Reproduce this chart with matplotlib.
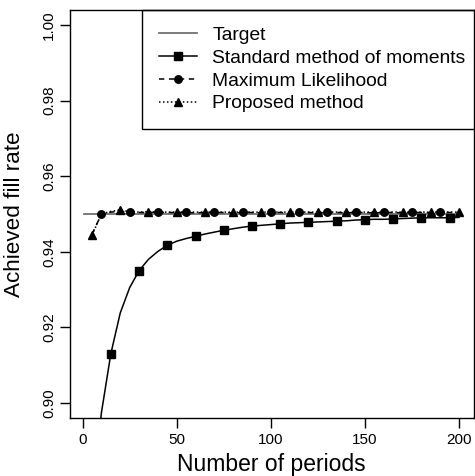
import matplotlib
matplotlib.use("Agg")
import matplotlib.pyplot as plt
from matplotlib.lines import Line2D
from matplotlib.legend_handler import HandlerLine2D

plt.rcParams['font.family'] = ['Liberation Sans', 'DejaVu Sans']

# ---- data ----
periods = list(range(5, 201, 5))
target_x = [1, 200]
target_y = [0.95, 0.95]

standard = [0.8740, 0.8974, 0.9130, 0.9238, 0.9305, 0.9350, 0.9380, 0.9401, 0.9417, 0.9428,
            0.9435, 0.9441, 0.9447, 0.9452, 0.9457, 0.9461, 0.9465, 0.9468, 0.9470, 0.9472,
            0.9474, 0.9476, 0.9477, 0.9478, 0.9479, 0.9480, 0.9481, 0.9482, 0.9484, 0.9485,
            0.9486, 0.9486, 0.9487, 0.9488, 0.9489, 0.9490, 0.9490, 0.9490, 0.9490, 0.9491]
max_lik = [0.9447, 0.9499, 0.9505, 0.9507, 0.9505, 0.9504, 0.9504, 0.9505, 0.9504, 0.9504,
           0.9504, 0.9503, 0.9504, 0.9504, 0.9504, 0.9503, 0.9504, 0.9504, 0.9503, 0.9504,
           0.9504, 0.9503, 0.9504, 0.9504, 0.9503, 0.9504, 0.9504, 0.9503, 0.9504, 0.9504,
           0.9503, 0.9504, 0.9504, 0.9503, 0.9504, 0.9504, 0.9503, 0.9504, 0.9504, 0.9504]
proposed = [0.9444, 0.9500, 0.9507, 0.9511, 0.9506, 0.9505, 0.9506, 0.9505, 0.9505, 0.9505,
            0.9505, 0.9505, 0.9505, 0.9505, 0.9505, 0.9505, 0.9505, 0.9505, 0.9505, 0.9505,
            0.9505, 0.9505, 0.9505, 0.9505, 0.9505, 0.9505, 0.9505, 0.9505, 0.9505, 0.9505,
            0.9505, 0.9505, 0.9505, 0.9505, 0.9505, 0.9505, 0.9505, 0.9505, 0.9505, 0.9505]

xticks = [0, 50, 100, 150, 200]
yticks = [0.90, 0.92, 0.94, 0.96, 0.98, 1.00]
ytick_labels = ["0.90", "0.92", "0.94", "0.96", "0.98", "1.00"]
labels = ["Target", "Standard method of moments", "Maximum Likelihood", "Proposed method"]

# ---- figure ----
W, H = 475, 476
fig = plt.figure(figsize=(W / 100, H / 100), dpi=100)
L, R, B, T = 69.5, 474, 418, 10
ax = fig.add_axes([L / W, (H - B) / H, (R - L) / W, (B - T) / H])

ax.plot(target_x, target_y, color='#707070', lw=1.3, zorder=2)
ax.plot(periods, standard, color='black', lw=1.1, marker='s', ms=5.4,
        markevery=(2, 3), zorder=3)
ax.plot(periods, max_lik, color='black', lw=1.1, ls=(0, (3.5, 3)), marker='o', ms=5.4,
        markevery=(1, 3), zorder=3)
ax.plot(periods, proposed, color='black', lw=1.1, ls=(0, (1, 1.6)), marker='^', ms=6.2,
        markevery=(0, 3), zorder=3)

ax.set_xlim(-6.96, 207.96)
ax.set_ylim(0.896, 1.004)
ax.set_xticks(xticks)
ax.set_yticks(yticks)
ax.set_yticklabels(ytick_labels, rotation=90, va='center')
ax.tick_params(direction='out', length=7, width=1, labelsize=11, colors='black')
ax.tick_params(axis='x', pad=3.6)
ax.tick_params(axis='y', pad=2.5)
for s in ax.spines.values():
    s.set_linewidth(1.0)
    s.set_color('black')
    s.set_zorder(10)

ax.set_xlabel("Number of periods", fontsize=16.5, va='center')
ax.xaxis.set_label_coords(0.5, (B - 464) / (B - T))
ax.set_ylabel("Achieved fill rate", fontsize=16.2, va='center')
ax.yaxis.set_label_coords((15 - L) / (R - L), 0.5)


class EndMarkerHandler(HandlerLine2D):
    def get_xdata(self, legend, xdescent, ydescent, width, height, fontsize):
        return [-xdescent, -xdescent + width], [-xdescent + width]


handles = [
    Line2D([], [], color='#707070', lw=1.3),
    Line2D([], [], color='black', lw=1.1, marker='s', ms=5.4),
    Line2D([], [], color='black', lw=1.1, ls=(0, (3.5, 3)), marker='o', ms=5.4),
    Line2D([], [], color='black', lw=1.1, ls=(0, (1, 1.6)), marker='^', ms=6.2),
]
leg = ax.legend(handles, labels, loc='upper right', borderaxespad=0, fontsize=13.9,
                bbox_to_anchor=(1 + 8 / (R - L), 1),
                frameon=True, fancybox=False, edgecolor='black', framealpha=1,
                handlelength=2.0, handletextpad=0.76, borderpad=0.86, labelspacing=0.27,
                handler_map={h: EndMarkerHandler() for h in handles})
leg.get_frame().set_linewidth(1.0)
leg.set_zorder(5)

fig.savefig("out.png", dpi=100)
